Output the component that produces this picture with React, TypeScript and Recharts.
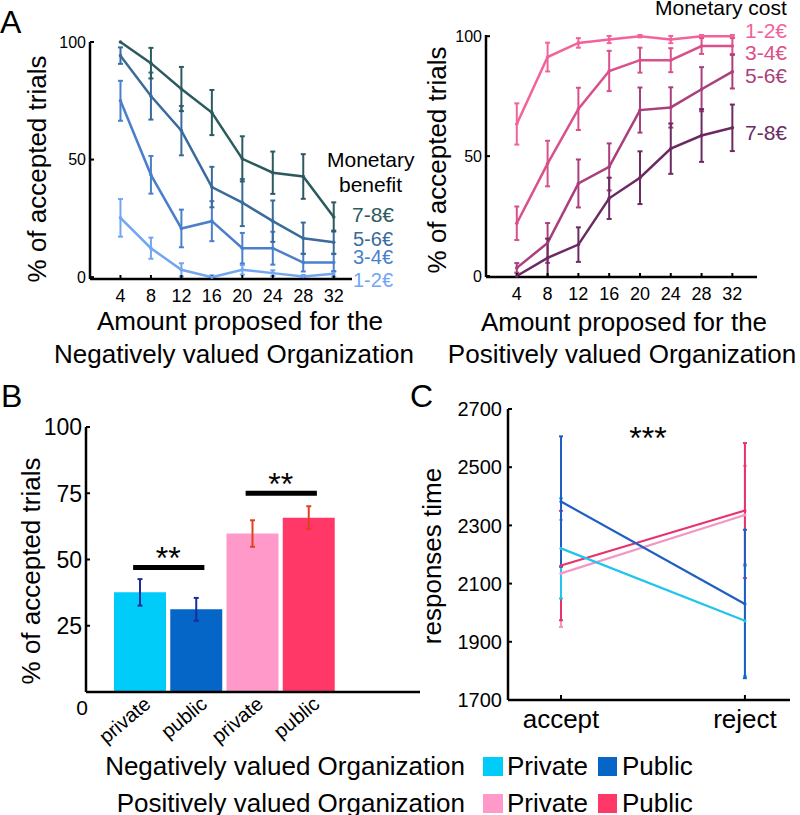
import React from 'react';
import {Bar, BarChart, Cell, ErrorBar, Line, LineChart, ReferenceLine, XAxis, YAxis} from 'recharts';

const font = '"Liberation Sans", Arial, Helvetica, sans-serif';

// ---- panel A: % accepted trials by amount proposed ----
const amounts = [4, 8, 12, 16, 20, 24, 28, 32];

// negatively valued organization, by monetary benefit
const benefit12 = [25.2, 12.3, 3.1, 0, 3.1, 1.7, 0.3, 1.4];
const benefit12Err = [8, 4.5, 2.8, 0.8, 2, 1.2, 0.6, 1.2];
const benefit34 = [75, 43.5, 20.7, 23.8, 12.3, 12.3, 6.2, 6.2];
const benefit34Err = [8.5, 8, 8, 8.5, 6.5, 7, 3.8, 3.8];
const benefit56 = [94.2, 77, 62.3, 38.3, 31.7, 23.8, 16.5, 14.8];
const benefit56Err = [3.5, 10, 10.5, 8.6, 10, 8.8, 6.7, 5];
const benefit78 = [100, 91, 80, 70, 50.3, 44.4, 42.8, 25.6];
const benefit78Err = [0, 6.5, 9.4, 9.6, 9.6, 9, 9.5, 6.2];

// positively valued organization, by monetary cost
const cost12 = [63.4, 91.3, 97.2, 98.6, 100, 98.6, 100, 100];
const cost12Err = [8.6, 6, 2, 1.5, 0.5, 1.5, 0.5, 0.5];
const cost34 = [22, 46.9, 69.7, 85.5, 90, 90, 95.9, 95.9];
const cost34Err = [7, 9.5, 8.8, 8.4, 5.2, 5, 3.3, 3.3];
const cost56 = [3.4, 13.8, 38.6, 45.5, 69.2, 70.3, 77.9, 85.2];
const cost56Err = [2, 8.3, 10, 9.8, 9.4, 8.4, 9.2, 7];
const cost78 = [0, 7.6, 13.1, 32.4, 41, 53.1, 58.6, 61.8];
const cost78Err = [0, 8, 7.2, 8.6, 11, 10.5, 11, 9.7];

const moneyLabels = ['1-2€', '3-4€', '5-6€', '7-8€'];
const benefitColors = ['#73a6f2', '#4a7fcb', '#3a6b9c', '#2c5b5f'];
const costColors = ['#f2639b', '#d9508b', '#aa3f7d', '#6b2b62'];

// ---- panel B: bars ----
const barKeys = ['negPrivate', 'negPublic', 'posPrivate', 'posPublic'];
const barLabels = ['private', 'public', 'private', 'public'];
const barGroups = ['neg', 'neg', 'pos', 'pos'];
const acceptedRate = [37.6, 31.2, 59.8, 65.8];
const acceptedErr = [5, 4.3, 5, 4.3];
const barColors = ['#00ccfa', '#0566c8', '#ff99c9', '#ff3868'];

// ---- panel C: response times ----
const choices = ['accept', 'reject'];
const rtNegPrivate = [2221, 1972];
const rtNegPrivateErr = [172, 190];
const rtNegPublic = [2382, 2030];
const rtNegPublicErr = [224, 255];
const rtPosPrivate = [2135, 2336];
const rtPosPrivateErr = [184, 169];
const rtPosPublic = [2162, 2351];
const rtPosPublicErr = [188, 232];

const benefitData = amounts.map((x, i) => ({
    x,
    s0: benefit12[i], e0: benefit12Err[i],
    s1: benefit34[i], e1: benefit34Err[i],
    s2: benefit56[i], e2: benefit56Err[i],
    s3: benefit78[i], e3: benefit78Err[i],
}));

const costData = amounts.map((x, i) => ({
    x,
    s0: cost12[i], e0: cost12Err[i],
    s1: cost34[i], e1: cost34Err[i],
    s2: cost56[i], e2: cost56Err[i],
    s3: cost78[i], e3: cost78Err[i],
}));

const barData = barKeys.map((key, i) => ({
    key,
    rate: acceptedRate[i],
    negErr: barGroups[i] === 'neg' ? acceptedErr[i] : undefined,
    posErr: barGroups[i] === 'pos' ? acceptedErr[i] : undefined,
}));

const rtData = choices.map((c, i) => ({
    x: i + 1,
    negPriv: rtNegPrivate[i], negPrivE: rtNegPrivateErr[i],
    negPub: rtNegPublic[i], negPubE: rtNegPublicErr[i],
    posPriv: rtPosPrivate[i], posPrivE: rtPosPrivateErr[i],
    posPub: rtPosPublic[i], posPubE: rtPosPublicErr[i],
}));

const axisLine = {stroke: '#000', strokeWidth: 2.5};
const tickLine = {stroke: '#000', strokeWidth: 2};

const seriesLines = (colors: string[]) =>
    colors.map((color, i) => (
        <Line
            key={i}
            type="linear"
            dataKey={`s${i}`}
            stroke={color}
            strokeWidth={2.5}
            dot={{r: 1.8, fill: color, stroke: 'none'}}
            isAnimationActive={false}
        >
            <ErrorBar dataKey={`e${i}`} width={2.5} stroke={color} strokeWidth={2} isAnimationActive={false}/>
        </Line>
    ));

const AmountPanel = ({data, colors, xMax, margin}: any) => (
    <LineChart width={400} height={380} data={data} margin={margin}>
        <XAxis
            type="number"
            dataKey="x"
            domain={[0, xMax]}
            ticks={amounts}
            height={30}
            tickSize={-4}
            tickMargin={14}
            axisLine={axisLine}
            tickLine={tickLine}
            tick={{fill: '#000', fontSize: 18}}
        />
        <YAxis
            type="number"
            domain={[0, 100]}
            ticks={[0, 50, 100]}
            width={40}
            tickSize={-4}
            tickMargin={8}
            axisLine={axisLine}
            tickLine={tickLine}
            tick={{fill: '#000', fontSize: 16}}
        />
        {seriesLines(colors)}
    </LineChart>
);

const SigBar = (p: any) => (
    <line x1={p.x1 - 7} y1={p.y1} x2={p.x2 + 8} y2={p.y2} stroke="#000" strokeWidth={5}/>
);

const BarXTick = ({x, y, payload}: any) => {
    const i = barKeys.indexOf(payload.value);
    const tx = x + 12;
    const ty = y + 6;
    return (
        <text x={tx} y={ty} textAnchor="end" fontSize={20} fill="#000" transform={`rotate(-40 ${tx} ${ty})`}>
            {barLabels[i]}
        </text>
    );
};

const BarYTick = ({x, y, payload}: any) =>
    payload.value === 0 ? (
        <text x={x + 6} y={y + 23} textAnchor="end" fontSize={21} fill="#000">0</text>
    ) : (
        <text x={x} y={y} dy="0.36em" textAnchor="end" fontSize={23} fill="#000">{payload.value}</text>
    );

const AcceptedBars = () => (
    <BarChart width={440} height={390} data={barData} margin={{top: 27, right: 20, bottom: 58, left: 46}}>
        <XAxis
            dataKey="key"
            height={40}
            padding={{left: 26, right: 83}}
            axisLine={axisLine}
            tickLine={false}
            tick={<BarXTick/>}
            interval={0}
        />
        <YAxis
            type="number"
            domain={[0, 100]}
            ticks={[0, 25, 50, 75, 100]}
            width={40}
            tickSize={-4}
            tickMargin={8}
            axisLine={axisLine}
            tickLine={tickLine}
            tick={<BarYTick/>}
        />
        <Bar dataKey="rate" barSize={52} isAnimationActive={false}>
            {barData.map((d, i) => <Cell key={d.key} fill={barColors[i]}/>)}
            <ErrorBar dataKey="negErr" width={2.5} stroke="#1c2c9a" strokeWidth={2} isAnimationActive={false}/>
            <ErrorBar dataKey="posErr" width={2.5} stroke="#e0401c" strokeWidth={2} isAnimationActive={false}/>
        </Bar>
        <ReferenceLine
            segment={[{x: 'negPrivate', y: 47}, {x: 'negPublic', y: 47}]}
            shape={SigBar}
            label={{value: '**', position: 'top', offset: -2, fontSize: 32, fill: '#000'}}
        />
        <ReferenceLine
            segment={[{x: 'posPrivate', y: 75}, {x: 'posPublic', y: 75}]}
            shape={SigBar}
            label={{value: '**', position: 'top', offset: -2, fontSize: 32, fill: '#000'}}
        />
    </BarChart>
);

const rtSeries = [
    {key: 'posPriv', color: '#f296c4'},
    {key: 'posPub', color: '#e8336a'},
    {key: 'negPriv', color: '#22c4ee'},
    {key: 'negPub', color: '#1f5fc4'},
];

const ResponseTimes = () => (
    <LineChart width={400} height={360} data={rtData} margin={{top: 29, right: 10, bottom: 10, left: 58}}>
        <XAxis
            type="number"
            dataKey="x"
            domain={[0.712, 2.245]}
            ticks={[1, 2]}
            tickFormatter={(v: number) => choices[v - 1]}
            height={30}
            tickSize={-5}
            tickMargin={15}
            axisLine={axisLine}
            tickLine={tickLine}
            tick={{fill: '#000', fontSize: 26}}
        />
        <YAxis
            type="number"
            domain={[1700, 2700]}
            ticks={[1700, 1900, 2100, 2300, 2500, 2700]}
            width={50}
            tickSize={-4}
            tickMargin={10}
            axisLine={axisLine}
            tickLine={tickLine}
            tick={{fill: '#000', fontSize: 20}}
        />
        {rtSeries.map(s => (
            <Line
                key={s.key}
                type="linear"
                dataKey={s.key}
                stroke={s.color}
                strokeWidth={2.2}
                dot={{r: 1.6, fill: s.color, stroke: 'none'}}
                isAnimationActive={false}
            >
                <ErrorBar dataKey={`${s.key}E`} width={2} stroke={s.color} strokeWidth={2} isAnimationActive={false}/>
            </Line>
        ))}
    </LineChart>
);

const legendRows = [
    {title: 'Negatively valued Organization', baseline: 775, colors: [barColors[0], barColors[1]]},
    {title: 'Positively valued Organization', baseline: 812, colors: [barColors[2], barColors[3]]},
];

export default function App() {
    return (
        <div style={{position: 'absolute', left: 0, top: 0, width: 800, height: 815, background: '#fff', fontFamily: font, overflow: 'hidden'}}>
            <div style={{position: 'absolute', left: 0, top: 0}}>
                <AmountPanel data={benefitData} colors={benefitColors} xMax={34.4}
                             margin={{top: 42, right: 48, bottom: 71, left: 50}}/>
            </div>
            <div style={{position: 'absolute', left: 400, top: 0}}>
                <AmountPanel data={costData} colors={costColors} xMax={35.2}
                             margin={{top: 35, right: 43, bottom: 73, left: 46}}/>
            </div>
            <div style={{position: 'absolute', left: 0, top: 400}}>
                <AcceptedBars/>
            </div>
            <div style={{position: 'absolute', left: 400, top: 380}}>
                <ResponseTimes/>
            </div>
            <svg width={800} height={815} style={{position: 'absolute', left: 0, top: 0, pointerEvents: 'none'}}
                 fontFamily={font}>
                <text x={0} y={33} fontSize={32}>A</text>
                <text x={1} y={407} fontSize={32}>B</text>
                <text x={410} y={407} fontSize={32}>C</text>

                {/* panel A left */}
                <text transform="translate(46 169) rotate(-90)" textAnchor="middle" fontSize={26}>% of accepted trials</text>
                <text x={240} y={330} textAnchor="middle" fontSize={26}>Amount proposed for the</text>
                <text x={234} y={363} textAnchor="middle" fontSize={26}>Negatively valued Organization</text>
                <text x={327} y={167} fontSize={21}>Monetary</text>
                <text x={339} y={192} fontSize={21}>benefit</text>
                <text x={352} y={222} fontSize={21} fill={benefitColors[3]}>{moneyLabels[3]}</text>
                <text x={353} y={246} fontSize={20} fill={benefitColors[2]}>{moneyLabels[2]}</text>
                <text x={353} y={264} fontSize={20} fill={benefitColors[1]}>{moneyLabels[1]}</text>
                <text x={353} y={287} fontSize={20} fill={benefitColors[0]}>{moneyLabels[0]}</text>

                {/* panel A right */}
                <text transform="translate(446 160) rotate(-90)" textAnchor="middle" fontSize={26}>% of accepted trials</text>
                <text x={624} y={331} textAnchor="middle" fontSize={26}>Amount proposed for the</text>
                <text x={622} y={363} textAnchor="middle" fontSize={26}>Positively valued Organization</text>
                <text x={655} y={15} fontSize={21}>Monetary cost</text>
                <text x={745} y={38} fontSize={21} fill={costColors[0]}>{moneyLabels[0]}</text>
                <text x={745} y={60} fontSize={21} fill={costColors[1]}>{moneyLabels[1]}</text>
                <text x={745} y={83} fontSize={21} fill={costColors[2]}>{moneyLabels[2]}</text>
                <text x={745} y={140} fontSize={21} fill={costColors[3]}>{moneyLabels[3]}</text>

                {/* panel B / C titles */}
                <text transform="translate(40 571) rotate(-90)" textAnchor="middle" fontSize={26}>% of accepted trials</text>
                <text transform="translate(441 556) rotate(-90)" textAnchor="middle" fontSize={26}>responses time</text>
                <text x={648} y={449} textAnchor="middle" fontSize={32}>***</text>

                {/* legend */}
                {legendRows.map(row => (
                    <g key={row.title}>
                        <text x={465} y={row.baseline} textAnchor="end" fontSize={26}>{row.title}</text>
                        <rect x={483} y={row.baseline - 18} width={20} height={19} fill={row.colors[0]}/>
                        <text x={507} y={row.baseline} fontSize={26}>Private</text>
                        <rect x={598} y={row.baseline - 18} width={19} height={19} fill={row.colors[1]}/>
                        <text x={622} y={row.baseline} fontSize={26}>Public</text>
                    </g>
                ))}
            </svg>
        </div>
    );
}
